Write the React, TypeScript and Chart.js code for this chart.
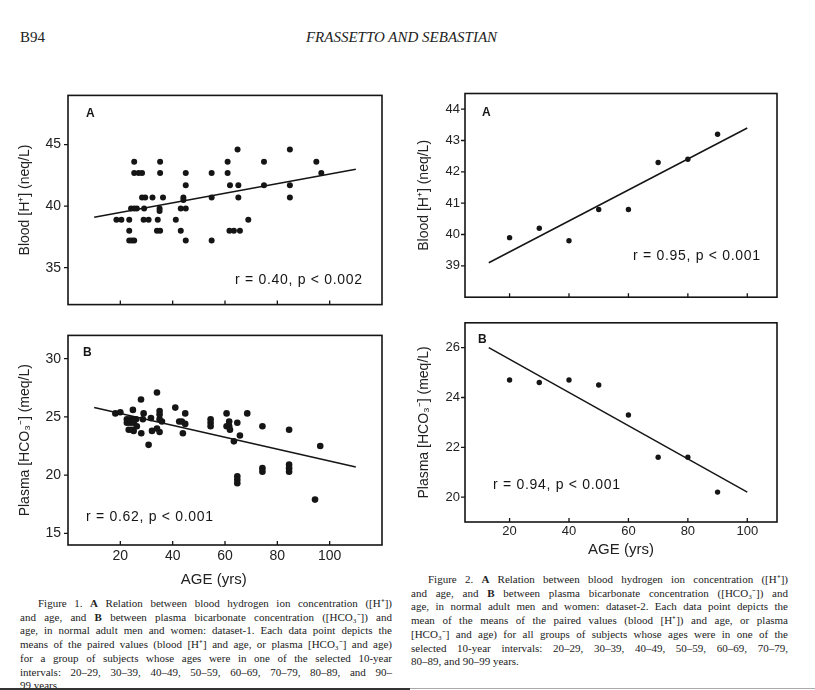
import React, { useEffect, useRef } from 'react';
import { Chart, registerables } from 'chart.js';

Chart.register(...registerables);

// ---------- data ----------
const ageTicks = [20, 40, 60, 80, 100];
const hTicks1 = [35, 40, 45];
const hco3Ticks1 = [15, 20, 25, 30];
const hTicks2 = [39, 40, 41, 42, 43, 44];
const hco3Ticks2 = [20, 22, 24, 26];

// Figure 1A: dataset-1, blood [H+] vs age
const ages1A = [18.5, 20.4, 23.4, 23.4, 23.4, 24.4, 25.3, 25.3, 25.3, 27.0, 28.3, 24.1, 25.3, 26.3, 28.3, 29.5, 29.1, 28.9, 30.8, 32.3, 34.3, 34.0, 35.2, 35.0, 35.0, 35.2, 35.2, 36.3, 41.2, 43.1, 43.1, 45.0, 44.1, 44.1, 45.0, 45.0, 45.0, 54.9, 54.9, 54.9, 61.0, 61.0, 61.9, 65.1, 65.1, 64.8, 61.7, 63.4, 65.7, 68.9, 74.9, 74.9, 84.8, 84.8, 84.8, 94.9, 96.8];
const h1 = [38.9, 38.9, 38.9, 38.0, 37.2, 37.2, 37.2, 43.6, 42.7, 42.7, 42.7, 39.8, 39.8, 39.8, 40.7, 40.7, 39.8, 38.9, 38.9, 40.7, 38.9, 38.0, 38.0, 39.8, 39.6, 43.6, 42.7, 40.7, 38.9, 38.0, 39.8, 39.8, 40.7, 40.5, 41.7, 42.7, 37.2, 42.7, 40.7, 37.2, 43.6, 42.7, 41.7, 41.7, 40.7, 44.6, 38.0, 38.0, 38.0, 38.9, 43.6, 41.7, 44.6, 41.7, 40.7, 43.6, 42.7];

// Figure 1B: dataset-1, plasma [HCO3-] vs age
const ages1B = [18.1, 20.0, 24.8, 22.5, 23.8, 24.8, 26.0, 22.5, 23.8, 25.1, 23.2, 24.4, 25.1, 26.3, 27.9, 28.0, 28.9, 28.6, 30.8, 31.7, 32.1, 34.0, 34.0, 35.0, 35.0, 35.0, 35.0, 35.9, 41.0, 42.5, 43.5, 43.9, 44.8, 44.8, 54.5, 54.5, 54.5, 60.6, 60.6, 61.6, 61.6, 61.9, 64.7, 65.7, 63.4, 64.7, 64.7, 64.7, 68.5, 74.3, 74.3, 74.3, 84.5, 84.5, 84.5, 84.5, 94.4, 96.4];
const hco3_1 = [25.3, 25.4, 25.6, 24.8, 24.8, 24.8, 24.8, 24.5, 24.5, 24.5, 23.9, 23.9, 23.8, 24.2, 26.5, 23.6, 25.3, 24.8, 22.6, 24.9, 23.8, 27.1, 24.0, 25.5, 25.2, 24.8, 23.7, 24.6, 25.8, 24.6, 24.6, 23.6, 25.3, 24.4, 24.8, 24.5, 24.2, 25.3, 24.2, 24.2, 24.6, 23.9, 24.5, 23.4, 22.9, 19.9, 19.6, 19.3, 25.3, 24.2, 20.6, 20.3, 23.9, 20.9, 20.6, 20.3, 17.9, 22.5];

// Figure 2: dataset-2, means per decade
const ages2 = [20, 30, 40, 50, 60, 70, 80, 90];
const h2 = [39.9, 40.2, 39.8, 40.8, 40.8, 42.3, 42.4, 43.2];
const hco3_2 = [24.7, 24.6, 24.7, 24.5, 23.3, 21.6, 21.6, 20.2];

// regression lines (end points)
const fitAge1 = [10, 110];
const fitH1 = [39.1, 43.0];
const fitHco3_1 = [25.8, 20.7];
const fitAge2 = [13, 100];
const fitH2 = [39.1, 43.4];
const fitHco3_2 = [26.0, 20.2];

const SANS = '"Liberation Sans", Arial, sans-serif';
const SERIF = '"Liberation Serif", "Times New Roman", serif';
const INK = '#151515';

const framePlugin = {
  id: 'frame',
  afterDatasetsDraw(chart: any, _args: any, opts: any) {
    const { ctx, chartArea: a, scales } = chart;
    const x = scales.x;
    const y = scales.y;
    ctx.save();
    ctx.strokeStyle = INK;
    ctx.lineWidth = 1.6;
    ctx.strokeRect(a.left, a.top, a.right - a.left, a.bottom - a.top);
    ctx.lineWidth = 1.3;
    ctx.beginPath();
    x.ticks.forEach((t: any) => {
      const px = x.getPixelForValue(t.value);
      ctx.moveTo(px, a.bottom);
      ctx.lineTo(px, a.bottom - 4);
    });
    y.ticks.forEach((t: any) => {
      const py = y.getPixelForValue(t.value);
      ctx.moveTo(a.left, py);
      ctx.lineTo(a.left - 4, py);
    });
    ctx.stroke();
    ctx.fillStyle = INK;
    ctx.textBaseline = 'middle';
    ctx.textAlign = 'left';
    ctx.font = `bold 12px ${SANS}`;
    ctx.fillText(opts.letter, a.left + opts.letterDx, a.top + opts.letterDy);
    ctx.font = `14px ${SANS}`;
    try { (ctx as any).letterSpacing = '0.7px'; } catch (e) {}
    ctx.fillText(opts.note, a.left + opts.noteDx, a.top + opts.noteDy);
    try { (ctx as any).letterSpacing = '0px'; } catch (e) {}
    ctx.restore();
  },
};

type PanelCfg = {
  left: number; top: number; width: number; height: number;
  xs: number[]; ys: number[]; fitX: number[]; fitY: number[];
  xMin: number; xMax: number; yMin: number; yMax: number;
  yTicks: number[]; showXLabels: boolean; xTitle?: string; yTitle: string;
  padTop: number; padRight: number; yAxisW: number; xAxisH: number;
  yTitlePad: number; yTickPad: number; xTickPad: number; tickSize: number;
  radius: number;
  letter: string; letterDx: number; letterDy: number;
  note: string; noteDx: number; noteDy: number;
};

function Panel({ cfg }: { cfg: PanelCfg }) {
  const ref = useRef<HTMLCanvasElement | null>(null);
  useEffect(() => {
    if (!ref.current) return;
    const chart = new Chart(ref.current, {
      type: 'scatter',
      data: {
        datasets: [
          {
            data: cfg.xs.map((x, i) => ({ x, y: cfg.ys[i] })),
            pointRadius: cfg.radius,
            pointBackgroundColor: INK,
            pointBorderWidth: 0,
            showLine: false,
          },
          {
            data: cfg.fitX.map((x, i) => ({ x, y: cfg.fitY[i] })),
            showLine: true,
            borderColor: INK,
            borderWidth: 1.5,
            pointRadius: 0,
            fill: false,
          },
        ],
      },
      options: {
        responsive: false,
        maintainAspectRatio: false,
        animation: false,
        layout: { padding: { left: 0, top: cfg.padTop, right: cfg.padRight, bottom: 0 } },
        plugins: {
          legend: { display: false },
          tooltip: { enabled: false },
          frame: {
            letter: cfg.letter, letterDx: cfg.letterDx, letterDy: cfg.letterDy,
            note: cfg.note, noteDx: cfg.noteDx, noteDy: cfg.noteDy,
          },
        } as any,
        scales: {
          x: {
            type: 'linear',
            min: cfg.xMin,
            max: cfg.xMax,
            grid: { display: false, drawTicks: false },
            border: { display: false },
            afterBuildTicks: (s: any) => { s.ticks = ageTicks.map((v) => ({ value: v })); },
            afterFit: (s: any) => { s.height = cfg.xAxisH; },
            ticks: {
              display: cfg.showXLabels,
              padding: cfg.xTickPad,
              color: '#222',
              font: { family: SANS, size: cfg.tickSize },
              maxRotation: 0,
              callback: (v: any) => String(v),
            },
            title: {
              display: !!cfg.xTitle,
              text: cfg.xTitle || '',
              color: '#222',
              font: { family: SANS, size: 15 },
              padding: { top: 0, bottom: 1 },
            },
          },
          y: {
            type: 'linear',
            min: cfg.yMin,
            max: cfg.yMax,
            grid: { display: false, drawTicks: false },
            border: { display: false },
            afterBuildTicks: (s: any) => { s.ticks = cfg.yTicks.map((v) => ({ value: v })); },
            afterFit: (s: any) => { s.width = cfg.yAxisW; },
            ticks: {
              padding: cfg.yTickPad,
              color: '#222',
              font: { family: SANS, size: cfg.tickSize },
              callback: (v: any) => String(v),
            },
            title: {
              display: true,
              text: cfg.yTitle,
              color: '#222',
              font: { family: SANS, size: 14 },
              padding: { top: cfg.yTitlePad, bottom: 0 },
            },
          },
        },
      },
      plugins: [framePlugin as any],
    });
    return () => chart.destroy();
  }, []);
  return (
    <canvas
      ref={ref}
      width={cfg.width}
      height={cfg.height}
      style={{ position: 'absolute', left: cfg.left, top: cfg.top, width: cfg.width, height: cfg.height }}
    />
  );
}

const H_TITLE = 'Blood [H\u207A] (neq/L)';
const B_TITLE = 'Plasma [HCO\u2083\u207B] (meq/L)';

const panels: PanelCfg[] = [
  {
    left: 0, top: 80, width: 400, height: 240,
    xs: ages1A, ys: h1, fitX: fitAge1, fitY: fitH1,
    xMin: 0, xMax: 120, yMin: 32, yMax: 49, yTicks: hTicks1,
    showXLabels: false, yTitle: H_TITLE,
    padTop: 10, padRight: 18, yAxisW: 68, xAxisH: 8,
    yTitlePad: 16.6, yTickPad: 7, xTickPad: 3, tickSize: 14, radius: 3,
    letter: 'A', letterDx: 18, letterDy: 18,
    note: 'r = 0.40, p < 0.002', noteDx: 167, noteDy: 185,
  },
  {
    left: 0, top: 320, width: 400, height: 270,
    xs: ages1B, ys: hco3_1, fitX: fitAge1, fitY: fitHco3_1,
    xMin: 0, xMax: 120, yMin: 14, yMax: 32, yTicks: hco3Ticks1,
    showXLabels: true, xTitle: 'AGE (yrs)\u2002\u2002\u2002', yTitle: B_TITLE,
    padTop: 8, padRight: 18, yAxisW: 68, xAxisH: 45,
    yTitlePad: 16.6, yTickPad: 7, xTickPad: 3, tickSize: 14, radius: 3.3,
    letter: 'B', letterDx: 15, letterDy: 17,
    note: 'r = 0.62, p < 0.001', noteDx: 18, noteDy: 182,
  },
  {
    left: 410, top: 80, width: 405, height: 230,
    xs: ages2, ys: h2, fitX: fitAge2, fitY: fitH2,
    xMin: 5, xMax: 110, yMin: 38, yMax: 44.5, yTicks: hTicks2,
    showXLabels: false, yTitle: H_TITLE,
    padTop: 13.5, padRight: 38, yAxisW: 55, xAxisH: 9,
    yTitlePad: 5.6, yTickPad: 5, xTickPad: 2, tickSize: 13, radius: 2.7,
    letter: 'A', letterDx: 17, letterDy: 19,
    note: 'r = 0.95, p < 0.001', noteDx: 168, noteDy: 163,
  },
  {
    left: 410, top: 310, width: 405, height: 250,
    xs: ages2, ys: hco3_2, fitX: fitAge2, fitY: fitHco3_2,
    xMin: 5, xMax: 110, yMin: 19, yMax: 27, yTicks: hco3Ticks2,
    showXLabels: true, xTitle: 'AGE (yrs)', yTitle: B_TITLE,
    padTop: 8, padRight: 38, yAxisW: 55, xAxisH: 38,
    yTitlePad: 5.6, yTickPad: 5, xTickPad: 2, tickSize: 13, radius: 2.7,
    letter: 'B', letterDx: 13, letterDy: 17,
    note: 'r = 0.94, p < 0.001', noteDx: 28, noteDy: 162,
  },
];

const cap1: React.ReactNode[] = [
  <>Figure 1. <b>A</b> Relation between blood hydrogen ion concentration ([H⁺])</>,
  <>and age, and <b>B</b> between plasma bicarbonate concentration ([HCO₃⁻]) and</>,
  <>age, in normal adult men and women: dataset-1. Each data point depicts the</>,
  <>means of the paired values (blood [H⁺] and age, or plasma [HCO₃⁻] and age)</>,
  <>for a group of subjects whose ages were in one of the selected 10-year</>,
  <>intervals: 20–29, 30–39, 40–49, 50–59, 60–69, 70–79, 80–89, and 90–</>,
  <>99 years.</>,
];

const cap2: React.ReactNode[] = [
  <>Figure 2. <b>A</b> Relation between blood hydrogen ion concentration ([H⁺])</>,
  <>and age, and <b>B</b> between plasma bicarbonate concentration ([HCO₃⁻]) and</>,
  <>age, in normal adult men and women: dataset-2. Each data point depicts the</>,
  <>mean of the means of the paired values (blood [H⁺]) and age, or plasma</>,
  <>[HCO₃⁻] and age) for all groups of subjects whose ages were in one of the</>,
  <>selected 10-year intervals: 20–29, 30–39, 40–49, 50–59, 60–69, 70–79,</>,
  <>80–89, and 90–99 years.</>,
];

function Caption({ lines, left, top, width, indent }: { lines: React.ReactNode[]; left: number; top: number; width: number; indent: number }) {
  return (
    <div style={{ position: 'absolute', left, top, width, fontFamily: SERIF, fontSize: 11, lineHeight: '13.7px', color: '#222' }}>
      {lines.map((l, i) => (
        <div
          key={i}
          style={{
            whiteSpace: 'nowrap',
            textAlign: 'justify',
            textAlignLast: i === lines.length - 1 ? 'left' : 'justify',
            paddingLeft: i === 0 ? indent : 0,
          } as any}
        >
          {l}
        </div>
      ))}
    </div>
  );
}

export default function App() {
  return (
    <div style={{ position: 'absolute', left: 0, top: 0, width: 815, height: 690, overflow: 'hidden', background: '#fff' }}>
      <div style={{ position: 'absolute', left: 20, top: 29, fontFamily: SERIF, fontSize: 15, color: '#222' }}>B94</div>
      <div style={{ position: 'absolute', left: 0, width: 803, top: 29, textAlign: 'center', fontFamily: SERIF, fontStyle: 'italic', fontSize: 15, color: '#222' }}>
        FRASSETTO AND SEBASTIAN
      </div>
      {panels.map((p, i) => (
        <Panel key={i} cfg={p} />
      ))}
      <Caption lines={cap1} left={20} top={597} width={372} indent={18} />
      <Caption lines={cap2} left={411} top={573} width={377} indent={17} />
      <div style={{ position: 'absolute', left: 0, top: 688, width: 410, height: 2, background: '#333' }} />
      <div style={{ position: 'absolute', left: 410, top: 688, width: 405, height: 1, background: '#aaa' }} />
    </div>
  );
}
